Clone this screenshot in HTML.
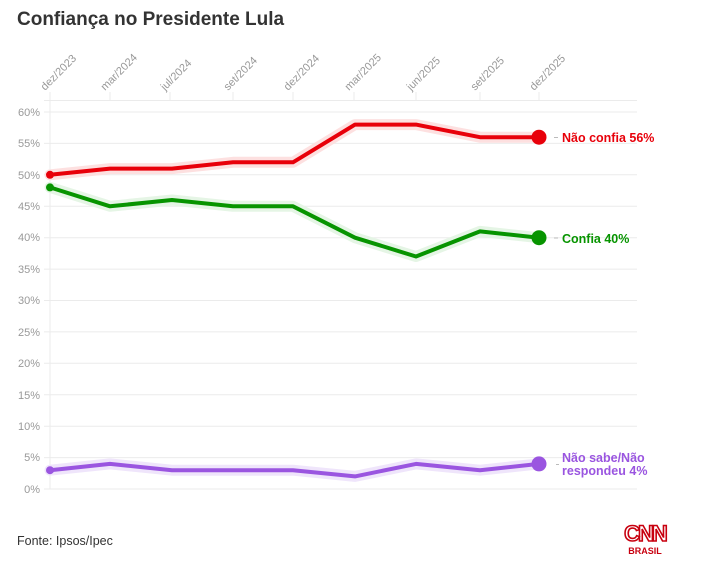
<!DOCTYPE html>
<html><head><meta charset="utf-8"><style>
body{margin:0;background:#fff;width:705px;height:564px;overflow:hidden;font-family:"Liberation Sans",sans-serif}
</style></head><body>
<svg width="705" height="564" xmlns="http://www.w3.org/2000/svg" font-family="Liberation Sans, sans-serif">
<text x="17" y="25" font-size="19" font-weight="bold" fill="#333">Confiança no Presidente Lula</text>
<g stroke="#ebebeb" stroke-width="1">
<line x1="44" y1="100.5" x2="637" y2="100.5"/>
<line x1="44" y1="112" x2="637" y2="112"/><line x1="44" y1="143.4" x2="637" y2="143.4"/>
<line x1="44" y1="174.8" x2="637" y2="174.8"/><line x1="44" y1="206.3" x2="637" y2="206.3"/>
<line x1="44" y1="237.7" x2="637" y2="237.7"/><line x1="44" y1="269.1" x2="637" y2="269.1"/>
<line x1="44" y1="300.5" x2="637" y2="300.5"/><line x1="44" y1="331.9" x2="637" y2="331.9"/>
<line x1="44" y1="363.3" x2="637" y2="363.3"/><line x1="44" y1="394.8" x2="637" y2="394.8"/>
<line x1="44" y1="426.2" x2="637" y2="426.2"/><line x1="44" y1="457.6" x2="637" y2="457.6"/>
<line x1="44" y1="489" x2="637" y2="489"/>
<line x1="50" y1="92" x2="50" y2="489"/>
<line x1="110" y1="92" x2="110" y2="100"/><line x1="170" y1="92" x2="170" y2="100"/>
<line x1="233" y1="92" x2="233" y2="100"/><line x1="293" y1="92" x2="293" y2="100"/>
<line x1="354" y1="92" x2="354" y2="100"/><line x1="416" y1="92" x2="416" y2="100"/>
<line x1="480" y1="92" x2="480" y2="100"/><line x1="539" y1="92" x2="539" y2="100"/>
</g>
<g font-size="11" fill="#999" text-anchor="end">
<text x="40" y="116">60%</text><text x="40" y="147">55%</text><text x="40" y="179">50%</text>
<text x="40" y="210">45%</text><text x="40" y="241">40%</text><text x="40" y="273">35%</text>
<text x="40" y="304">30%</text><text x="40" y="336">25%</text><text x="40" y="367">20%</text>
<text x="40" y="399">15%</text><text x="40" y="430">10%</text><text x="40" y="461">5%</text>
<text x="40" y="493">0%</text>
</g>
<g font-size="11" fill="#999">
<text transform="translate(45,91) rotate(-45)">dez/2023</text>
<text transform="translate(105,91) rotate(-45)">mar/2024</text>
<text transform="translate(165,91) rotate(-45)">jul/2024</text>
<text transform="translate(228,91) rotate(-45)">set/2024</text>
<text transform="translate(288,91) rotate(-45)">dez/2024</text>
<text transform="translate(349,91) rotate(-45)">mar/2025</text>
<text transform="translate(411,91) rotate(-45)">jun/2025</text>
<text transform="translate(475,91) rotate(-45)">set/2025</text>
<text transform="translate(534,91) rotate(-45)">dez/2025</text>
</g>
<g fill="none" stroke-linejoin="round" stroke-linecap="round">
<polyline stroke="#fde0e0" stroke-width="11" points="50,174.8 110,168.6 172,168.6 233,162.3 293,162.3 355,124.6 416,124.6 480,137.2 539,137.2"/>
<polyline stroke="#e5f5e5" stroke-width="11" points="50,187.4 110,206.3 172,200 233,206.3 293,206.3 355,237.7 416,256.5 480,231.4 539,237.7"/>
<polyline stroke="#efe5fb" stroke-width="11" points="50,470.2 110,463.9 172,470.2 233,470.2 293,470.2 355,476.4 416,463.9 480,470.2 539,463.9"/>
<polyline stroke="#e8000a" stroke-width="4" points="50,174.8 110,168.6 172,168.6 233,162.3 293,162.3 355,124.6 416,124.6 480,137.2 539,137.2"/>
<polyline stroke="#079400" stroke-width="4" points="50,187.4 110,206.3 172,200 233,206.3 293,206.3 355,237.7 416,256.5 480,231.4 539,237.7"/>
<polyline stroke="#9a55e0" stroke-width="4" points="50,470.2 110,463.9 172,470.2 233,470.2 293,470.2 355,476.4 416,463.9 480,470.2 539,463.9"/>
</g>
<circle cx="50" cy="174.8" r="4" fill="#e8000a"/><circle cx="539" cy="137.2" r="7.5" fill="#e8000a"/>
<circle cx="50" cy="187.4" r="4" fill="#079400"/><circle cx="539" cy="237.7" r="7.5" fill="#079400"/>
<circle cx="50" cy="470.2" r="4" fill="#9a55e0"/><circle cx="539" cy="463.9" r="7.5" fill="#9a55e0"/>
<g stroke="#bbb"><line x1="554" y1="137.5" x2="558" y2="137.5"/><line x1="554" y1="238" x2="558" y2="238"/><line x1="556" y1="464.5" x2="559" y2="464.5"/></g>
<text x="562" y="142" font-size="12.5" font-weight="bold" fill="#e8000a">Não confia 56%</text>
<text x="562" y="243" font-size="12.5" font-weight="bold" fill="#079400">Confia 40%</text>
<text x="562" y="462" font-size="12.5" font-weight="bold" fill="#9a55e0">Não sabe/Não</text>
<text x="562" y="475" font-size="12.5" font-weight="bold" fill="#9a55e0">respondeu 4%</text>
<text x="17" y="545" font-size="12.5" fill="#333">Fonte: Ipsos/Ipec</text>
<text x="645" y="541" font-size="22" font-weight="bold" fill="#fff" stroke="#c8000f" stroke-width="1.6" text-anchor="middle" letter-spacing="-2">CNN</text>
<text x="645" y="554" font-size="9" font-weight="bold" fill="#c8000f" text-anchor="middle">BRASIL</text>
</svg>
</body></html>
